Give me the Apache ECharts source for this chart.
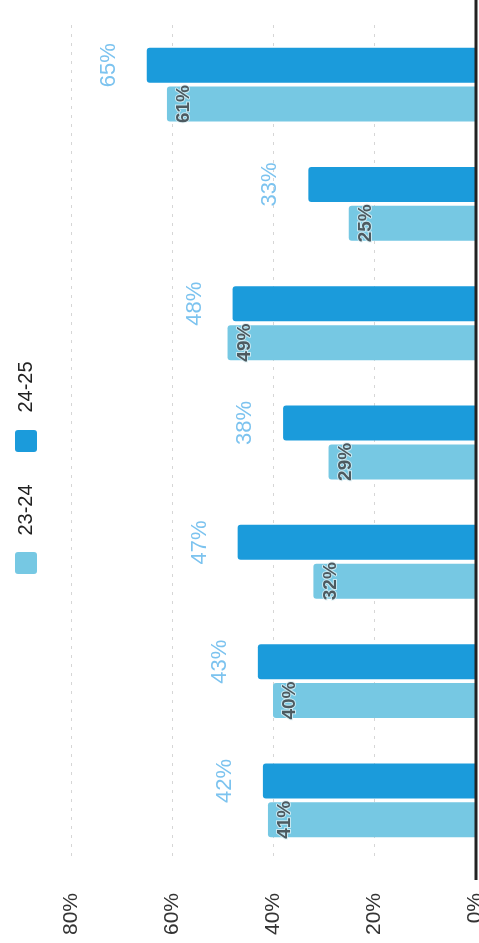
<!DOCTYPE html>
<html>
<head>
<meta charset="utf-8">
<script src="https://cdn.jsdelivr.net/npm/echarts@6/dist/echarts.min.js"></script>
<style>html,body{margin:0;padding:0;background:#fff;overflow:hidden;width:479px;height:943px;}#c{width:479px;height:943px;}</style>
</head>
<body>
<div id="c"></div>
<script>
var categories = ['G1', 'G2', 'G3', 'G4', 'G5', 'G6', 'G7'];
var series2425 = [65, 33, 48, 38, 47, 43, 42];
var series2324 = [61, 25, 49, 29, 32, 40, 41];
var seriesNames = ['24-25', '23-24'];
var valueTicks = [0, 20, 40, 60, 80];

var darkBlue = '#1b9bdb';
var lightBlue = '#76c8e3';
var chart = echarts.init(document.getElementById('c'), null, { width: 479, height: 943 });
var fontFam = 'Liberation Sans, Arial, sans-serif';

chart.setOption({
  animation: false,
  grid: { left: 71, right: 4, top: 25, bottom: 83, containLabel: false, outerBoundsMode: 'none' },
  xAxis: {
    type: 'value', inverse: true,
    min: valueTicks[0], max: valueTicks[valueTicks.length - 1], interval: 20,
    axisLine: { show: false }, axisTick: { show: false },
    axisLabel: { rotate: 90, margin: 33, fontSize: 21, color: '#333', fontFamily: fontFam,
      formatter: function (v) { return v + '%'; } },
    splitLine: { show: true, lineStyle: { color: '#d6d6d6', type: [3, 6], width: 1 } }
  },
  yAxis: {
    type: 'category', data: categories, inverse: true, position: 'right',
    axisLine: { show: false },
    axisTick: { show: false }, axisLabel: { show: false }
  },
  series: [
    {
      name: seriesNames[0], type: 'bar', data: series2425,
      barWidth: 35, barGap: '11%',
      itemStyle: { color: darkBlue, borderRadius: [3, 0, 0, 3] },
      label: { show: true, position: 'left', distance: 38, rotate: 90,
        align: 'center', verticalAlign: 'middle',
        color: '#7cc3ef', fontSize: 22, fontWeight: 300, fontFamily: fontFam,
        formatter: '{c}%' }
    },
    {
      name: seriesNames[1], type: 'bar', data: series2324,
      barWidth: 35, barGap: '11%',
      itemStyle: { color: lightBlue, borderRadius: [3, 0, 0, 3] },
      label: { show: true, position: 'insideLeft', distance: 17, rotate: 90,
        align: 'center', verticalAlign: 'middle',
        color: '#4d5a60', fontSize: 19, fontWeight: 'bold', fontFamily: fontFam,
        textBorderColor: 'rgba(220,240,245,0.8)', textBorderWidth: 2,
        formatter: '{c}%' }
    }
  ],
  graphic: [
    { type: 'line', shape: { x1: 476, y1: 0, x2: 476, y2: 880 }, style: { stroke: '#222', lineWidth: 3 }, z: 10 },
    { type: 'rect', shape: { x: 15, y: 430, width: 22, height: 22, r: 3 }, style: { fill: darkBlue } },
    { type: 'text', x: 26, y: 387, rotation: Math.PI / 2,
      style: { text: seriesNames[0], fontSize: 20, fontFamily: fontFam, fill: '#222', align: 'center', verticalAlign: 'middle' } },
    { type: 'rect', shape: { x: 15, y: 552, width: 22, height: 22, r: 3 }, style: { fill: lightBlue } },
    { type: 'text', x: 26, y: 510, rotation: Math.PI / 2,
      style: { text: seriesNames[1], fontSize: 20, fontFamily: fontFam, fill: '#222', align: 'center', verticalAlign: 'middle' } }
  ]
});
</script>
</body>
</html>
